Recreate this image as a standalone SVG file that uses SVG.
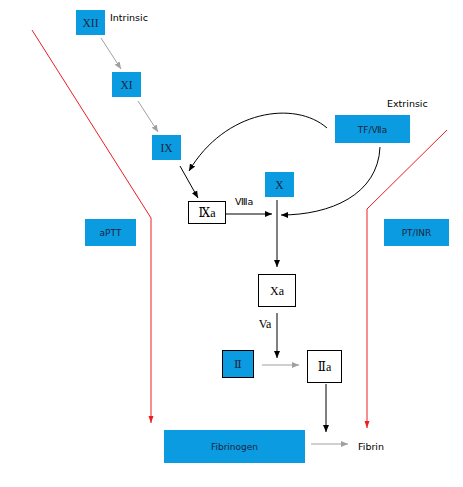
<svg xmlns="http://www.w3.org/2000/svg" width="463" height="487" viewBox="0 0 463 487">
<defs>
<style>
.blue{fill:#0a9be0}
.white{fill:#fff;stroke:#000;stroke-width:1}
.bb{fill:#0a9be0;stroke:#000;stroke-width:1}
.rn{font-family:"Liberation Serif","DejaVu Serif",serif;font-size:11.5px;fill:#1a2440;text-anchor:middle}
.rb{font-family:"Liberation Serif","DejaVu Serif",serif;font-size:12px;fill:#000;text-anchor:middle}
.sn{font-family:"DejaVu Sans","Liberation Sans",sans-serif;font-size:9px;fill:#1a2440;text-anchor:middle}
.lb{font-family:"DejaVu Sans","Liberation Sans",sans-serif;font-size:9.5px;fill:#000}
.gray{stroke:#a0a0a0;stroke-width:1;fill:none}
.blk{stroke:#000;stroke-width:1;fill:none}
.red{stroke:#ee1c24;stroke-width:1;fill:none}
</style>
<marker id="ag" markerWidth="8" markerHeight="8" refX="7" refY="4" orient="auto" markerUnits="userSpaceOnUse"><path d="M0,1 L7,4 L0,7 Z" fill="#a0a0a0"/></marker>
<marker id="ak" markerWidth="8" markerHeight="8" refX="7" refY="4" orient="auto" markerUnits="userSpaceOnUse"><path d="M0,1 L7,4 L0,7 Z" fill="#000"/></marker>
<marker id="ar" markerWidth="8" markerHeight="8" refX="7" refY="4" orient="auto" markerUnits="userSpaceOnUse"><path d="M0,1.5 L7,4 L0,6.5 Z" fill="#ee1c24"/></marker>
</defs>
<g id="connectors">
<line class="gray" x1="101" y1="38" x2="121" y2="69" marker-end="url(#ag)"/>
<line class="gray" x1="138" y1="101" x2="158" y2="132" marker-end="url(#ag)"/>
<line class="blk" x1="180" y1="166" x2="198" y2="198" marker-end="url(#ak)"/>
<path class="blk" d="M327,128 C295,100 225,110 189,171" marker-end="url(#ak)"/>
<path class="blk" d="M380,147 C378,195 330,215 281,215" marker-end="url(#ak)"/>
<line class="blk" x1="226" y1="214" x2="272" y2="214" marker-end="url(#ak)"/>
<line class="blk" x1="277" y1="200" x2="277" y2="267" marker-end="url(#ak)"/>
<line class="blk" x1="277" y1="313" x2="277" y2="358" marker-end="url(#ak)"/>
<line class="gray" x1="262" y1="365" x2="299" y2="365" marker-end="url(#ag)"/>
<line class="blk" x1="326" y1="384" x2="326" y2="432" marker-end="url(#ak)"/>
<line class="gray" x1="311" y1="444" x2="348" y2="444" marker-end="url(#ag)"/>
<polyline class="red" points="32,30 151,218 151,423" marker-end="url(#ar)"/>
<polyline class="red" points="447,130 367,209 367,428" marker-end="url(#ar)"/>
</g>
<g id="XII"><rect class="blue" x="76" y="10" width="29" height="25"/><text class="rn" x="90.5" y="27">XII</text></g>
<text id="intrinsic" class="lb" x="110" y="21">Intrinsic</text>
<g id="XI"><rect class="blue" x="112" y="72" width="29" height="25"/><text class="rn" x="126.5" y="89">XI</text></g>
<g id="IX"><rect class="blue" x="152" y="135" width="29" height="25"/><text class="rn" x="166.5" y="152">IX</text></g>
<text id="extrinsic" class="lb" x="387" y="107">Extrinsic</text>
<g id="TFVIIa"><rect class="blue" x="335" y="115" width="75" height="28"/><text class="sn" x="372.5" y="133">TF/Ⅶa</text></g>
<g id="X"><rect class="blue" x="265" y="172" width="29" height="25"/><text class="rn" x="279.5" y="189">X</text></g>
<g id="IXa"><rect class="white" x="188.5" y="201.5" width="37" height="22"/><text class="rb" x="207" y="217">Ⅸa</text></g>
<text id="VIIIa" class="lb" x="235" y="205">Ⅷa</text>
<g id="aPTT"><rect class="blue" x="85" y="219" width="51" height="27"/><text class="sn" x="110.5" y="236">aPTT</text></g>
<g id="PTINR"><rect class="blue" x="384" y="219" width="65" height="27"/><text class="sn" x="416.5" y="236">PT/INR</text></g>
<g id="Xa"><rect class="white" x="258.5" y="274.5" width="37" height="32"/><text class="rb" x="277" y="295">Xa</text></g>
<text id="Va" class="rb" x="265" y="328">Va</text>
<g id="II"><rect class="bb" x="222.5" y="350.5" width="31" height="27"/><text class="rn" x="238" y="368">Ⅱ</text></g>
<g id="IIa"><rect class="white" x="307.5" y="350.5" width="34" height="32"/><text class="rb" x="324.5" y="371">Ⅱa</text></g>
<g id="Fibrinogen"><rect class="blue" x="164" y="430" width="141" height="33"/><text class="sn" x="234.5" y="450">Fibrinogen</text></g>
<text id="Fibrin" class="lb" x="358" y="450">Fibrin</text>
</svg>
